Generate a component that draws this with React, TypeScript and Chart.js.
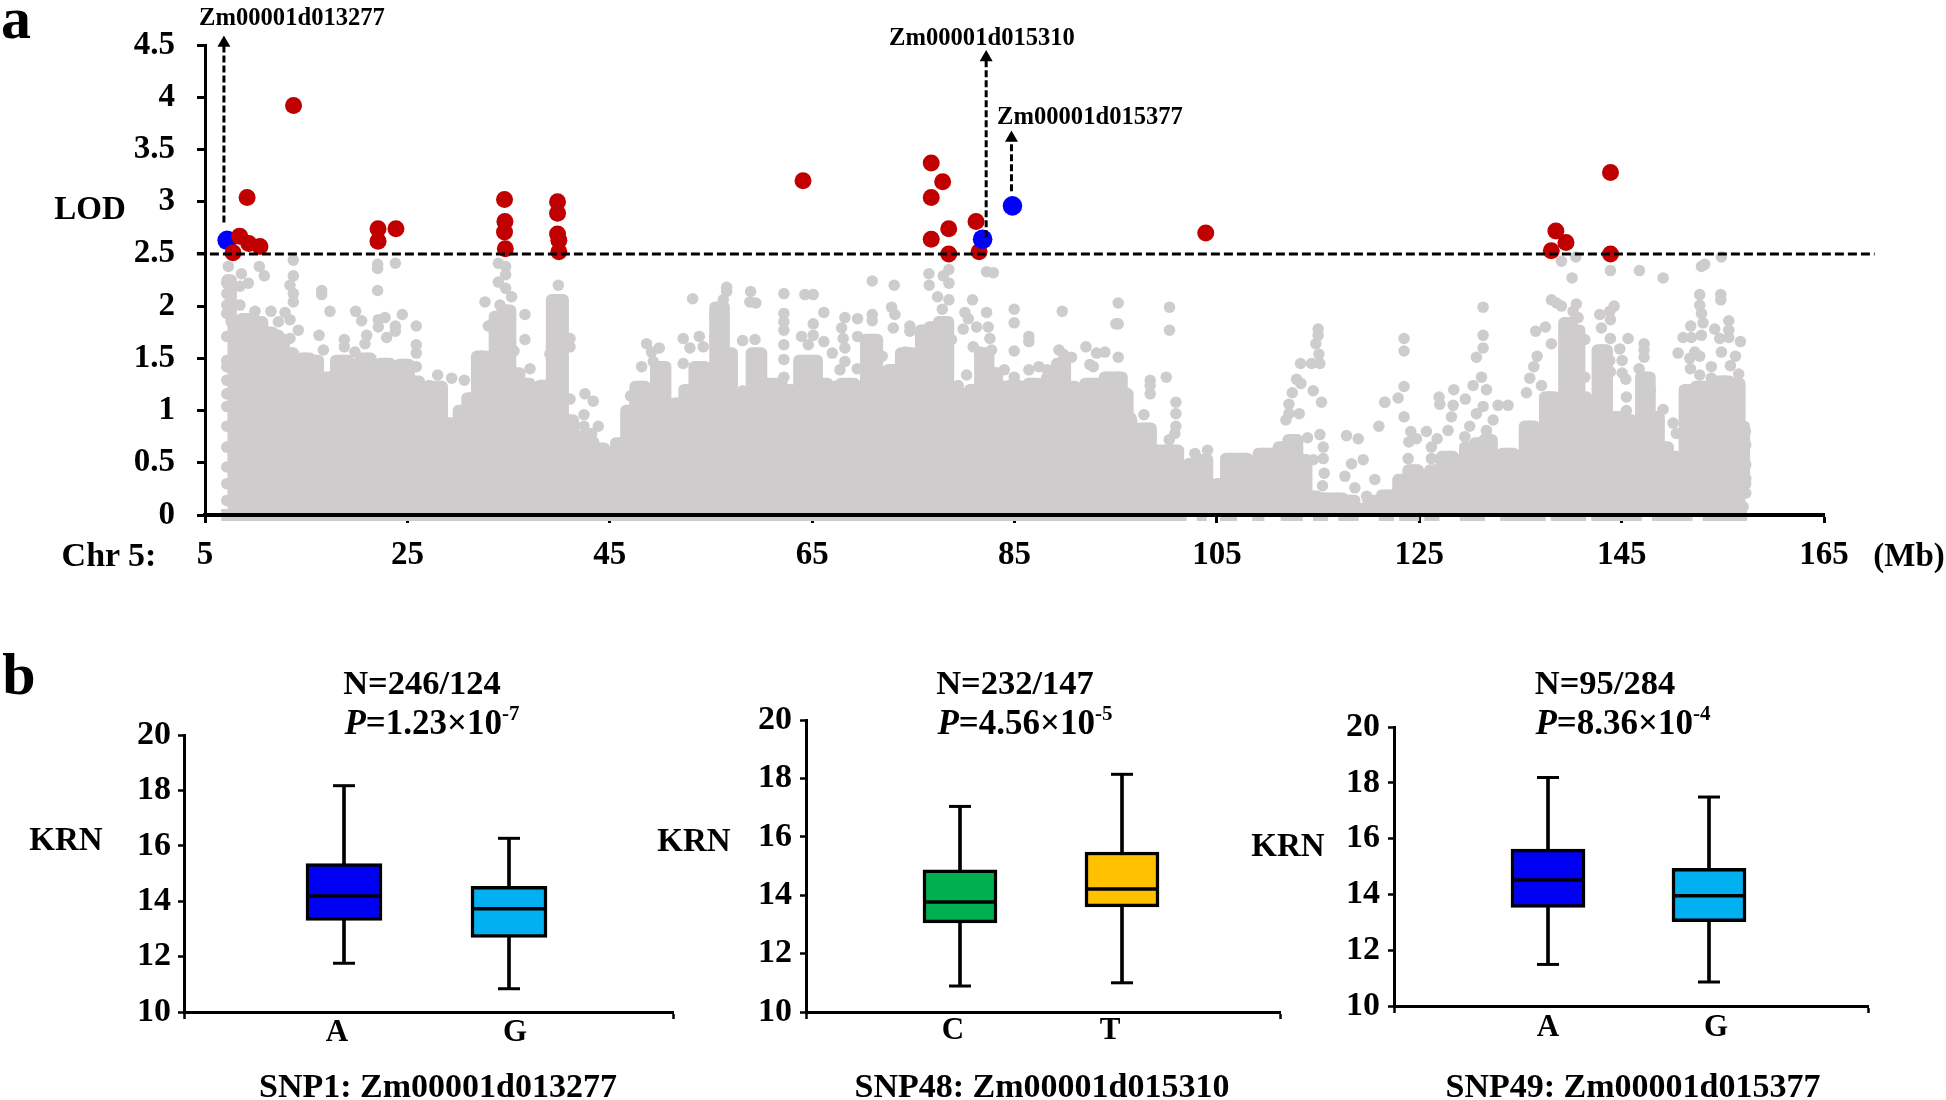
import React, { useEffect, useRef } from "react";
import { Chart, registerables } from "chart.js";

Chart.register(...registerables);

const SERIF = '"Liberation Serif", "Times New Roman", serif';
const GREY = "#CECCCC";
const RED = "#C00000";
const BLUE = "#0000FF";

// Panel a: tick values
const lodTicks = [0, 0.5, 1, 1.5, 2, 2.5, 3, 3.5, 4, 4.5];
const mbTicks = [5, 25, 45, 65, 85, 105, 125, 145, 165];
const lodThreshold = 2.5;
const thresholdSpan = [4.2, 170];

// Panel a: significant SNPs, [Mb, LOD]
const redEarly = [[8.42, 2.67], [9.33, 2.6], [10.43, 2.57], [7.77, 2.51]];
const redPoints = [
  [9.16, 3.04], [13.75, 3.92], [22.1, 2.74], [22.1, 2.62], [23.87, 2.74],
  [34.6, 3.02], [34.64, 2.81], [34.6, 2.71], [34.68, 2.55],
  [39.84, 3.0], [39.84, 2.89], [39.84, 2.69], [39.97, 2.63], [39.97, 2.52],
  [64.1, 3.2], [76.77, 3.37], [77.9, 3.19], [76.77, 3.04], [78.5, 2.74], [76.77, 2.64], [78.5, 2.5],
  [81.2, 2.81], [81.5, 2.52], [103.9, 2.7],
  [143.9, 3.28], [138.5, 2.72], [139.5, 2.61], [138.05, 2.53], [143.9, 2.5],
];
const bluePoints = [[7.19, 2.63], [81.85, 2.64], [84.8, 2.96]];

// Panel a: upper outline of the dense grey mass, [Mb, LOD]
const greyMass = [
  [7.2, 2.25], [7.97, 1.85], [9.28, 1.88], [10.27, 1.85], [11.1, 1.75], [12.25, 1.68], [13.4, 1.55], [14.06, 1.26],
  [14.9, 1.5], [15.9, 1.48], [16.5, 1.29], [17.35, 1.32], [18.5, 1.48], [19.8, 1.44], [21, 1.5], [21.8, 1.42],
  [22.8, 1.45], [23.8, 1.2], [24.6, 1.44], [25.75, 1.28], [26.6, 1.0], [28, 1.23], [28.9, 0.88], [29.7, 0.65],
  [30.4, 1.0], [31.4, 1.12], [32.3, 1.52], [33.2, 1.3], [34, 1.9], [34.8, 1.96], [35.6, 1.36], [36.6, 1.26],
  [37.6, 1.2], [38.6, 1.24], [39.9, 2.06], [40.9, 0.91], [41.9, 0.75], [42.9, 0.7], [43.9, 0.64], [45, 0.59],
  [46.2, 0.69], [47, 1.0], [48, 1.23], [49, 1.21], [50.1, 1.42], [50.95, 0.94], [51.9, 1.07], [52.8, 1.2],
  [53.9, 1.42], [54.9, 1.32], [55.9, 1.99], [56.7, 1.55], [57.5, 1.1], [58.5, 1.16], [59.5, 1.55], [60.5, 1.26],
  [61.5, 1.26], [62.5, 1.2], [63.3, 1.0], [64.1, 1.48], [65.1, 1.48], [65.9, 1.26], [67.1, 1.23], [68.6, 1.26],
  [69.7, 1.23], [70.9, 1.68], [72, 1.13], [73, 1.39], [74.5, 1.55], [75.3, 1.04], [76.15, 1.77], [77, 1.8],
  [78, 1.85], [78.95, 1.16], [79.9, 1.16], [81.25, 1.2], [81.9, 1.55], [83, 1.36], [83.6, 0.78], [84.05, 1.23],
  [84.9, 1.24], [85.9, 1.23], [86.85, 1.26], [87.85, 1.24], [88.8, 0.94], [89.55, 1.45], [90.5, 1.23], [91.5, 1.04],
  [92.45, 1.26], [93.4, 1.26], [94.4, 1.32], [95.25, 1.32], [96, 1.16], [96.4, 0.91], [96.75, 0.56], [98, 0.83],
  [99, 0.62], [100.7, 0.62], [101.7, 0.46], [102.7, 0.49], [103.65, 0.53], [104.5, 0.24], [105.45, 0.3], [106.3, 0.54],
  [107.45, 0.54], [108.6, 0.43], [109.6, 0.59], [110.6, 0.59], [111.55, 0.65], [112.55, 0.72], [113.4, 0.53], [114.35, 0.18],
  [115.5, 0.16], [116.8, 0.16], [118.15, 0.14], [119.1, 0.06], [120.8, 0.14], [121.8, 0.19], [122.4, 0.19], [123.4, 0.34],
  [124.4, 0.43], [125.4, 0.37], [126.7, 0.43], [127.7, 0.56], [129, 0.53], [130, 0.65], [131, 0.69], [131.8, 0.72],
  [132.6, 0.54], [133.8, 0.59], [134.9, 0.56], [135.9, 0.85], [136.9, 0.81], [137.9, 1.13], [138.9, 0.94], [139.7, 1.84],
  [140.5, 1.77], [141.2, 1.07], [142.2, 0.94], [143, 1.58], [144.15, 0.94], [145.5, 0.91], [146.5, 0.81], [147.3, 1.32],
  [148.3, 0.94], [149.1, 0.65], [150.1, 0.56], [150.7, 0.53], [151.7, 1.2], [152.9, 1.23], [154, 0.81], [155, 1.28],
  [156.35, 1.26], [157, 0.85], [157.25, 0.3],
];

// Panel a: single grey SNPs read above the mass, [Mb, LOD]
const greyScatter = [
  [7.15, 2.22], [7.15, 2.12], [7.15, 2.01], [7.15, 1.93], [7.15, 1.71], [7.15, 1.48], [7.15, 1.42], [7.15, 1.29], [7.15, 1.16],
  [7.15, 1.04], [7.15, 0.85], [7.15, 0.65], [7.15, 0.46], [7.15, 0.3], [7.15, 0.14],
  [7.3, 2.38], [8.6, 2.31], [9.28, 2.22], [8.46, 2.19], [10.37, 2.38], [10.86, 2.29], [8.46, 2.01], [9.94, 1.95], [11.52, 1.95],
  [12.91, 1.94], [13.4, 1.87], [12.25, 1.85], [14.22, 1.77], [12.25, 1.72], [13.4, 1.69], [13.73, 2.44], [13.73, 2.29], [13.4, 2.2],
  [13.73, 2.12], [13.73, 2.04], [16.53, 2.15], [16.53, 2.11], [17.35, 1.95], [16.27, 1.72], [16.7, 1.58], [18.77, 1.68], [18.77, 1.61],
  [19.89, 1.95], [20.48, 1.86], [20.98, 1.72], [20.81, 1.64], [19.82, 1.56], [22.06, 2.4], [22.06, 2.36], [22.06, 2.15], [23.81, 2.41],
  [22.13, 1.87], [22.79, 1.89], [22.13, 1.8], [22.95, 1.7], [23.81, 1.81], [23.81, 1.76], [24.5, 1.92], [25.88, 1.81], [25.88, 1.63],
  [25.88, 1.55], [25.88, 1.42], [24.5, 1.42], [27.99, 1.34], [27.14, 1.24], [29.38, 1.31], [30.63, 1.29], [32.67, 2.04], [33.0, 1.81],
  [33.99, 2.41], [34.71, 2.38], [34.71, 2.3], [33.99, 2.23], [34.71, 2.17], [35.3, 2.09], [34.15, 2.01], [36.62, 1.92], [36.62, 1.68],
  [35.54, 1.57], [37.12, 1.4], [39.92, 2.2], [41.07, 1.69], [41.07, 1.61], [39.09, 1.54], [41.07, 1.11], [42.55, 1.16], [43.37, 1.09],
  [42.45, 0.96], [42.45, 0.85], [43.87, 0.85], [43.21, 0.78],
  [48.15, 1.42], [48.64, 1.64], [49.13, 1.56], [49.89, 1.6], [49.3, 1.47], [47.06, 1.14], [52.26, 1.69], [52.92, 1.6], [53.85, 1.71],
  [54.24, 1.61], [52.26, 1.45], [53.19, 2.07], [55.39, 1.7], [55.72, 1.6], [56.55, 2.18], [56.22, 2.06], [56.55, 2.14], [55.39, 1.9],
  [58.92, 2.14], [58.85, 2.04], [59.44, 2.03], [58.13, 1.67], [59.35, 1.68], [58.13, 1.19], [62.21, 2.12], [62.21, 1.93], [62.21, 1.85],
  [62.21, 1.77], [62.21, 1.63], [62.21, 1.49], [62.21, 1.32], [64.29, 2.11], [65.11, 2.11], [66.16, 1.94], [65.11, 1.83], [63.96, 1.71],
  [64.62, 1.63], [66.16, 1.66], [65.11, 1.72], [66.99, 1.55], [68.24, 1.89], [67.91, 1.79], [68.07, 1.69], [68.24, 1.6], [68.24, 1.47],
  [67.75, 1.39], [69.49, 1.88], [69.49, 1.71], [69.46, 1.4], [70.94, 2.24], [70.94, 1.92], [70.94, 1.86], [70.38, 1.54], [71.93, 1.52],
  [73.11, 2.2], [72.85, 1.99], [73.18, 1.92], [73.02, 1.79], [74.66, 1.81], [74.66, 1.76], [74.23, 1.56], [73.02, 1.39], [76.54, 2.31],
  [76.57, 2.2], [77.4, 2.09], [77.96, 2.29], [78.52, 2.35], [78.52, 2.22], [78.52, 2.06], [77.86, 1.97], [78.45, 1.84], [78.78, 1.68],
  [78.45, 1.32], [80.26, 1.34], [79.44, 1.24], [80.85, 2.06], [80.1, 1.94], [80.43, 1.88], [79.93, 1.78], [82.24, 1.94], [82.24, 2.33],
  [82.9, 2.32], [81.25, 1.8], [82.4, 1.8], [82.73, 1.58], [80.92, 1.61], [81.58, 1.56], [82.57, 1.69],
  [84.97, 1.97], [84.97, 1.84], [84.97, 1.57], [89.72, 1.95], [86.42, 1.71], [86.42, 1.66], [83.99, 1.39], [84.97, 1.32], [86.42, 1.39],
  [87.41, 1.42], [88.24, 1.39], [88.17, 1.31], [89.39, 1.58], [89.82, 1.54], [90.64, 1.51], [92.06, 1.61], [95.25, 2.03], [95.02, 1.83],
  [95.25, 1.83], [93.11, 1.55], [93.93, 1.56], [95.25, 1.51], [92.45, 1.44], [92.78, 1.42], [95.25, 1.31], [94.1, 1.28], [92.45, 1.23],
  [90.7, 1.21], [96.01, 1.17], [96.01, 1.05], [96.5, 0.93], [95.91, 0.88], [97.79, 0.96], [96.67, 0.74], [96.54, 0.64], [98.05, 0.81],
  [100.32, 1.99], [100.32, 1.77], [100, 1.32], [98.41, 1.29], [98.41, 1.24], [98.41, 1.16], [100.95, 1.08], [100.95, 0.97], [100.95, 0.85],
  [100.85, 0.78], [100.29, 0.72], [102.83, 0.59], [104.08, 0.62], [103.72, 0.51], [115.01, 1.78], [115.01, 1.72], [114.78, 1.64],
  [115.08, 1.54], [114.36, 1.45], [115.18, 1.45], [113.27, 1.45], [112.87, 1.3], [113.3, 1.26], [112.45, 1.17], [114.52, 1.19], [115.34, 1.08],
  [112.12, 1.06], [113.14, 0.97], [112.12, 0.97], [111.82, 0.91], [113.96, 0.74], [115.18, 0.77], [115.51, 0.65], [115.51, 0.54], [114.52, 0.53],
  [115.61, 0.4], [115.44, 0.28], [115.51, 0.16], [117.81, 0.76], [118.97, 0.73], [119.46, 0.53], [118.31, 0.49], [117.65, 0.37], [120.61, 0.34],
  [118.64, 0.26], [119.79, 0.18], [121.01, 0.85], [121.6, 1.08], [116.92, 0.16], [111.72, 0.48], [110.4, 0.45], [112.54, 0.62], [113.04, 0.49], [112.54, 0.34],
  [123.5, 1.69], [123.5, 1.57], [123.5, 1.23], [122.91, 1.12], [121.59, 1.08], [123.5, 0.94], [124.16, 0.8], [124.72, 0.73], [123.97, 0.7], [125.71, 0.8],
  [123.9, 0.54], [126.2, 0.65], [126.2, 0.54], [126.77, 0.73], [126.96, 1.13], [127.03, 1.06], [128.41, 1.2], [129.56, 1.11], [128.35, 1.05], [128.18, 0.94],
  [127.85, 0.81], [129.5, 0.75], [129.99, 0.85], [131.31, 1.99], [131.31, 1.72], [131.31, 1.6], [130.65, 1.51], [131.15, 1.32], [130.32, 1.24], [131.64, 1.2],
  [131.31, 1.04], [130.65, 0.97], [132.79, 1.05], [133.78, 1.05], [132.3, 0.91], [131.64, 0.81], [136.51, 1.76], [137.47, 1.8], [138.06, 2.06], [138.56, 2.03],
  [139.05, 2.0], [139.05, 2.43], [140.47, 2.47], [140.1, 2.27], [140.53, 2.02], [140.2, 1.95], [140.7, 1.89], [143.89, 2.34], [146.76, 2.34], [149.1, 2.27],
  [142.84, 1.92], [144.26, 2.0], [143.83, 1.95], [143.89, 1.87], [143, 1.79], [143.89, 1.69], [145.64, 1.69], [144.82, 1.59], [145.05, 1.48], [138.06, 1.64],
  [136.65, 1.52], [136.32, 1.42], [135.92, 1.31], [135.59, 1.17], [137.08, 1.24], [141.36, 1.68], [141.36, 1.32], [141.52, 1.13], [142.84, 1.32], [142.84, 1.21],
  [143.83, 1.48], [143.89, 1.37], [145.05, 1.36], [145.41, 1.3], [145.47, 1.13], [145.47, 1.0], [147.22, 1.64], [147.22, 1.58], [147.22, 1.51], [146.73, 1.4],
  [147.45, 1.31], [147.85, 1.2], [149.1, 1.01], [150.09, 0.88], [150.41, 0.78], [148.27, 0.93], [152.89, 2.38], [153.21, 2.4], [154.86, 2.47], [152.72, 2.11],
  [152.72, 2.01], [154.8, 2.11], [154.8, 2.06], [152.89, 1.93], [153.05, 1.84], [151.83, 1.81], [152.89, 1.72], [151.07, 1.7], [151.9, 1.7], [154.2, 1.78],
  [155.59, 1.86], [155.59, 1.77], [154.7, 1.69], [155.59, 1.7], [156.74, 1.66], [150.58, 1.55], [154.86, 1.56], [156.25, 1.52], [155.75, 1.43], [156.57, 1.35],
  [151.73, 1.5], [152.23, 1.56], [152.72, 1.52], [153.87, 1.42], [153.87, 1.31], [152.72, 1.34], [151.8, 1.4], [153.05, 1.23], [155.19, 1.28], [156.51, 1.24],
  [156.67, 1.13], [156.67, 0.97], [157.23, 0.8], [157.27, 0.67], [157.27, 0.48], [157.27, 0.35], [157.27, 0.21], [157.0, 0.08],
];

// Panel a: stretches (Mb) where grey points sit on LOD 0, under the axis line
const baselineSpans = [
  [6.6, 102], [103, 104], [105.3, 107], [108.5, 109.7], [111.3, 113.5], [114.5, 116], [117, 119], [121, 122.5], [123, 125],
  [125.5, 127], [129, 131.5], [133, 137.5], [138, 141.5], [142, 147], [148, 152], [153, 157.4],
];

// Panel a: arrows, [Mb, LOD at foot, LOD at head]
const arrowMb = [6.87, 82.2, 84.7];
const arrowFoot = [2.8, 2.66, 3.1];
const arrowHead = [4.52, 4.38, 3.61];

// Panel b: box statistics
const panel1Alleles = ["A", "G"];
const panel1Low = [11.76, 10.84];
const panel1Q1 = [13.31, 12.69];
const panel1Median = [14.19, 13.73];
const panel1Q3 = [15.36, 14.54];
const panel1High = [18.17, 16.27];

const panel2Alleles = ["C", "T"];
const panel2Low = [10.89, 11.0];
const panel2Q1 = [13.05, 13.6];
const panel2Median = [13.77, 14.21];
const panel2Q3 = [14.87, 15.48];
const panel2High = [17.04, 18.14];

const panel3Alleles = ["A", "G"];
const panel3Low = [11.49, 10.86];
const panel3Q1 = [13.53, 13.02];
const panel3Median = [14.52, 13.95];
const panel3Q3 = [15.62, 14.93];
const panel3High = [18.19, 17.49];

const krnTicks = [10, 12, 14, 16, 18, 20];

function pts(list: number[][]) {
  return list.map(([x, y]) => ({ x, y }));
}

function tickFont(size: number) {
  return { family: SERIF, size, weight: "bold" as const };
}

function ManhattanChart() {
  const ref = useRef<HTMLCanvasElement>(null);
  useEffect(() => {
    const baseline: any[] = [];
    baselineSpans.forEach(([a, b]) => {
      baseline.push({ x: a, y: 0 }, { x: b, y: 0 }, { x: b, y: null });
    });
    const base = { clip: false, parsing: true };
    const arrowShafts = arrowMb.map((x, i) => ({
      ...base,
      type: "scatter",
      order: 1,
      data: [{ x, y: arrowFoot[i] }, { x, y: arrowHead[i] }],
      showLine: true,
      borderColor: "#000",
      borderWidth: 3,
      borderDash: [7, 3],
      pointRadius: 0,
    }));
    const chart = new Chart(ref.current as HTMLCanvasElement, {
      type: "scatter",
      data: {
        datasets: [
          ...arrowShafts,
          {
            ...base,
            order: 1,
            data: arrowMb.map((x, i) => ({ x, y: arrowHead[i] })),
            pointStyle: "triangle",
            pointRadius: 7.5,
            backgroundColor: "#000",
            borderColor: "#000",
            borderWidth: 0,
          },
          {
            ...base,
            order: 2,
            data: [{ x: thresholdSpan[0], y: lodThreshold }, { x: thresholdSpan[1], y: lodThreshold }],
            showLine: true,
            borderColor: "#000",
            borderWidth: 3,
            borderDash: [9, 4],
            pointRadius: 0,
          },
          { ...base, order: 3, data: pts(redEarly), backgroundColor: RED, borderWidth: 0, pointRadius: 8.5 },
          { ...base, order: 4, data: pts(bluePoints), backgroundColor: BLUE, borderWidth: 0, pointRadius: 9.8 },
          { ...base, order: 5, data: pts(redPoints), backgroundColor: RED, borderWidth: 0, pointRadius: 8.5 },
          { ...base, order: 6, data: pts(greyScatter), backgroundColor: GREY, borderWidth: 0, pointRadius: 5.75 },
          {
            ...base,
            order: 7,
            data: pts(greyMass),
            showLine: true,
            stepped: "middle",
            fill: "origin",
            borderWidth: 11.5,
            borderJoinStyle: "round",
            borderCapStyle: "round",
            borderColor: GREY,
            backgroundColor: GREY,
            pointBackgroundColor: GREY,
            pointRadius: 5.75,
            pointBorderWidth: 0,
          },
          {
            ...base,
            order: 8,
            data: baseline,
            showLine: true,
            spanGaps: false,
            borderColor: GREY,
            borderWidth: 12,
            pointRadius: 0,
          },
        ] as any,
      },
      options: {
        animation: false,
        responsive: false,
        maintainAspectRatio: false,
        layout: { padding: { left: 0, top: 45, right: 122, bottom: 0 } },
        plugins: { legend: { display: false }, tooltip: { enabled: false }, title: { display: false } },
        elements: { point: { hoverRadius: 0 } },
        scales: {
          x: {
            type: "linear",
            min: 5,
            max: 165,
            afterFit: (s: any) => { s.height = 75; },
            afterBuildTicks: (s: any) => { s.ticks = mbTicks.map((value) => ({ value })); },
            grid: { drawOnChartArea: false, tickLength: 8, tickColor: "#000", tickWidth: 3 },
            border: { color: "#000", width: 4, z: 1 },
            ticks: { color: "#000", font: tickFont(33), padding: 13, maxRotation: 0, autoSkip: false },
          },
          y: {
            type: "linear",
            min: 0,
            max: 4.5,
            afterFit: (s: any) => { s.width = 205; },
            afterBuildTicks: (s: any) => { s.ticks = lodTicks.map((value) => ({ value })); },
            grid: { drawOnChartArea: false, tickLength: 8, tickColor: "#000", tickWidth: 3 },
            border: { color: "#000", width: 3, z: 1 },
            ticks: {
              color: "#000",
              font: tickFont(33),
              padding: 22,
              autoSkip: false,
              callback: (v: any) => String(v),
            },
          },
        },
      } as any,
    });
    return () => chart.destroy();
  }, []);
  return (
    <canvas
      ref={ref}
      width={1946}
      height={590}
      style={{ position: "absolute", left: 0, top: 0, width: 1946, height: 590 }}
    />
  );
}

type BoxProps = {
  plotLeft: number;
  plotRight: number;
  plotTop: number;
  plotBottom: number;
  tickPad: number;
  labelPad: number;
  boxWidth: number;
  boxPos: number[];
  labelPos: number[];
  alleles: string[];
  low: number[];
  q1: number[];
  median: number[];
  q3: number[];
  high: number[];
  colors: string[];
};

function BoxChart(p: BoxProps) {
  const ref = useRef<HTMLCanvasElement>(null);
  const canvasLeft = p.plotLeft - 130;
  const canvasTop = p.plotTop - 60;
  const canvasWidth = p.plotRight - canvasLeft + 60;
  const canvasHeight = p.plotBottom - canvasTop + 60;
  useEffect(() => {
    const mid = (a: number, b: number) => [a, b];
    const chart = new Chart(ref.current as HTMLCanvasElement, {
      type: "bar",
      data: {
        datasets: [
          {
            type: "scatter",
            order: 1,
            data: p.boxPos.map((x, i) => ({ x, y: p.median[i] })),
            pointStyle: "line",
            pointRadius: p.boxWidth / 2,
            pointBorderColor: "#000",
            pointBorderWidth: 3.5,
          },
          {
            type: "scatter",
            order: 1,
            data: p.boxPos.flatMap((x, i) => [{ x, y: p.low[i] }, { x, y: p.high[i] }]),
            pointStyle: "line",
            pointRadius: 11,
            pointBorderColor: "#000",
            pointBorderWidth: 3,
          },
          {
            type: "bar",
            order: 2,
            grouped: false,
            barThickness: p.boxWidth,
            data: p.boxPos.map((x, i) => ({ x, y: mid(p.q1[i], p.q3[i]) })),
            backgroundColor: p.colors,
            borderColor: "#000",
            borderWidth: 3.5,
            borderSkipped: false,
          },
          {
            type: "bar",
            order: 3,
            grouped: false,
            barThickness: 3,
            data: p.boxPos.map((x, i) => ({ x, y: mid(p.low[i], p.high[i]) })),
            backgroundColor: "#000",
            borderWidth: 0,
          },
        ] as any,
      },
      options: {
        animation: false,
        responsive: false,
        maintainAspectRatio: false,
        layout: { padding: { left: 0, top: p.plotTop - canvasTop, right: canvasLeft + canvasWidth - p.plotRight, bottom: 0 } },
        plugins: { legend: { display: false }, tooltip: { enabled: false }, title: { display: false } },
        scales: {
          x: {
            type: "linear",
            offset: false,
            min: p.plotLeft,
            max: p.plotRight,
            afterFit: (s: any) => { s.height = canvasTop + canvasHeight - p.plotBottom; },
            afterBuildTicks: (s: any) => {
              s.ticks = [p.plotLeft, ...p.labelPos, p.plotRight].map((value) => ({ value }));
            },
            grid: {
              offset: false,
              drawOnChartArea: false,
              tickLength: 7,
              tickWidth: 2.5,
              tickColor: (c: any) => (c.index === 0 || c.index === 3 ? "#000" : "rgba(0,0,0,0)"),
            },
            border: { color: "#000", width: 3 },
            ticks: {
              color: "#000",
              font: tickFont(31),
              padding: p.labelPad,
              maxRotation: 0,
              autoSkip: false,
              callback: (_v: any, i: number) => (i === 1 || i === 2 ? p.alleles[i - 1] : ""),
            },
          },
          y: {
            type: "linear",
            min: 10,
            max: 20,
            afterFit: (s: any) => { s.width = p.plotLeft - canvasLeft; },
            afterBuildTicks: (s: any) => { s.ticks = krnTicks.map((value) => ({ value })); },
            grid: { drawOnChartArea: false, tickLength: 6, tickColor: "#000", tickWidth: 2.5 },
            border: { color: "#000", width: 3 },
            ticks: { color: "#000", font: tickFont(34), padding: p.tickPad, autoSkip: false },
          },
        },
      } as any,
    });
    return () => chart.destroy();
  }, []);
  return (
    <canvas
      ref={ref}
      width={canvasWidth}
      height={canvasHeight}
      style={{ position: "absolute", left: canvasLeft, top: canvasTop, width: canvasWidth, height: canvasHeight }}
    />
  );
}

function Label(props: { x: number; y: number; size: number; children: React.ReactNode }) {
  return (
    <div
      style={{
        position: "absolute",
        left: props.x,
        top: props.y,
        transform: "translate(-50%, -50%)",
        font: `bold ${props.size}px ${SERIF}`,
        lineHeight: 1,
        whiteSpace: "nowrap",
        color: "#000",
      }}
    >
      {props.children}
    </div>
  );
}

function PValue(props: { x: number; y: number; mantissa: string; exp: string }) {
  return (
    <Label x={props.x} y={props.y} size={35}>
      <i>P</i>={props.mantissa}×10
      <sup style={{ fontSize: 21, lineHeight: 0, verticalAlign: 14 }}>{props.exp}</sup>
    </Label>
  );
}

export default function App() {
  return (
    <div style={{ position: "absolute", left: 0, top: 0, width: 1946, height: 1100, overflow: "hidden", background: "#fff" }}>
      <ManhattanChart />
      <BoxChart
        plotLeft={184} plotRight={673} plotTop={735} plotBottom={1012} tickPad={7} labelPad={-5} boxWidth={76}
        boxPos={[344, 509]} labelPos={[337, 515]} alleles={panel1Alleles}
        low={panel1Low} q1={panel1Q1} median={panel1Median} q3={panel1Q3} high={panel1High}
        colors={["#0000F5", "#00B0F0"]}
      />
      <BoxChart
        plotLeft={806} plotRight={1280} plotTop={720} plotBottom={1012} tickPad={8} labelPad={-7} boxWidth={74}
        boxPos={[960, 1122]} labelPos={[953, 1110]} alleles={panel2Alleles}
        low={panel2Low} q1={panel2Q1} median={panel2Median} q3={panel2Q3} high={panel2High}
        colors={["#00B050", "#FFC000"]}
      />
      <BoxChart
        plotLeft={1394} plotRight={1868} plotTop={727} plotBottom={1006} tickPad={8} labelPad={-4} boxWidth={74}
        boxPos={[1548, 1709]} labelPos={[1548, 1716]} alleles={panel3Alleles}
        low={panel3Low} q1={panel3Q1} median={panel3Median} q3={panel3Q3} high={panel3High}
        colors={["#0000F5", "#00B0F0"]}
      />

      <Label x={16} y={18} size={60}>a</Label>
      <Label x={19} y={674} size={60}>b</Label>
      <Label x={90} y={208} size={33}>LOD</Label>
      <Label x={109} y={555} size={34}>Chr 5:</Label>
      <Label x={1909} y={555} size={33}>(Mb)</Label>
      <Label x={292} y={17} size={24.6}>Zm00001d013277</Label>
      <Label x={982} y={37} size={24.6}>Zm00001d015310</Label>
      <Label x={1090} y={116} size={24.6}>Zm00001d015377</Label>

      <Label x={422} y={682} size={34.5}>N=246/124</Label>
      <Label x={1015} y={682} size={34.5}>N=232/147</Label>
      <Label x={1605} y={682} size={34.5}>N=95/284</Label>
      <PValue x={432} y={722} mantissa="1.23" exp="-7" />
      <PValue x={1025} y={722} mantissa="4.56" exp="-5" />
      <PValue x={1623} y={722} mantissa="8.36" exp="-4" />
      <Label x={66} y={839} size={33}>KRN</Label>
      <Label x={694} y={840} size={33}>KRN</Label>
      <Label x={1288} y={845} size={33}>KRN</Label>
      <Label x={438} y={1086} size={34}>SNP1: Zm00001d013277</Label>
      <Label x={1042} y={1086} size={34}>SNP48: Zm00001d015310</Label>
      <Label x={1633} y={1086} size={34}>SNP49: Zm00001d015377</Label>
    </div>
  );
}
